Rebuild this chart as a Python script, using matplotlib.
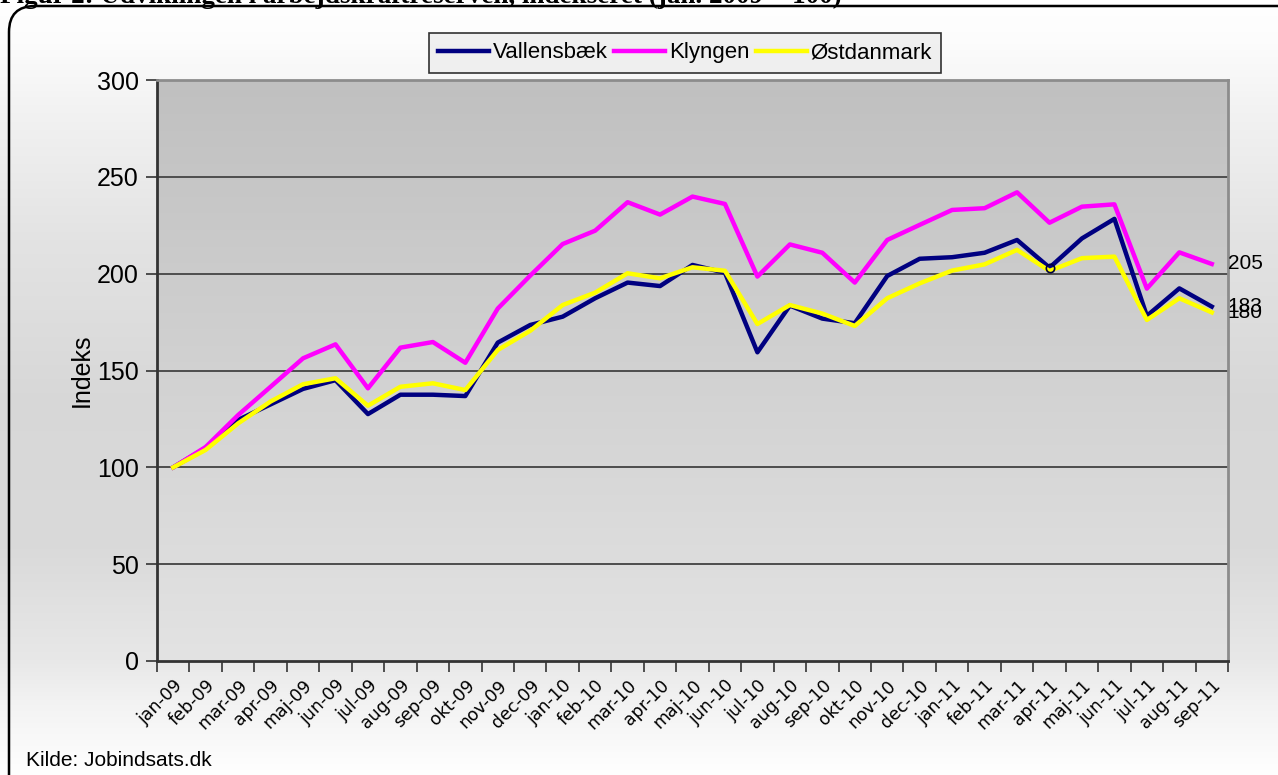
import numpy as np
import matplotlib
matplotlib.use("Agg")
import matplotlib.pyplot as plt
from matplotlib.patches import FancyBboxPatch

plt.rcParams['font.family'] = ['Liberation Sans', 'DejaVu Sans']

months = ["jan-09", "feb-09", "mar-09", "apr-09", "maj-09", "jun-09", "jul-09", "aug-09",
          "sep-09", "okt-09", "nov-09", "dec-09", "jan-10", "feb-10", "mar-10", "apr-10",
          "maj-10", "jun-10", "jul-10", "aug-10", "sep-10", "okt-10", "nov-10", "dec-10",
          "jan-11", "feb-11", "mar-11", "apr-11", "maj-11", "jun-11", "jul-11", "aug-11",
          "sep-11"]

vallensbaek = [100, 110, 124.5, 132.5, 140.5, 145, 127.5, 137.5, 137.5, 136.8, 164.4, 173.5,
               177.8, 187.3, 195.4, 193.6, 204.5, 200.5, 159.4, 183.5, 176.8, 174.4, 198.8, 207.7,
               208.5, 210.8, 217.4, 203.1, 218.2, 228.3, 178.2, 192.4, 183]
klyngen = [100, 110.5, 127, 141.6, 156.3, 163.5, 140.8, 161.8, 164.7, 154, 182, 199,
           215.3, 222.2, 236.9, 230.5, 239.8, 236, 198.5, 215.1, 210.8, 195.4, 217.4, 225.2,
           232.9, 233.8, 242, 226.3, 234.6, 235.8, 192.3, 211, 205]
ostdanmark = [100, 109, 122.7, 134, 142.9, 146, 131.8, 141.6, 143.4, 139.9, 160.6, 170.5,
              183.8, 190.2, 200.2, 197.6, 203.3, 201.5, 174, 183.8, 179.4, 173, 187.3, 195,
              201.6, 204.8, 212.3, 201.4, 208, 208.8, 176.1, 187.3, 180]

series = [("Vallensbæk", vallensbaek, "#000080"),
          ("Klyngen", klyngen, "#ff00ff"),
          ("Østdanmark", ostdanmark, "#ffff00")]

W, H = 1278, 775
fig = plt.figure(figsize=(W / 100, H / 100), dpi=100)

# background gradient for the chart area (pixel image, top row first)
py = np.arange(H)
gy = np.interp(py, [0, 40, 100, 240, 400, 550, 660, 700, 760, 775],
               [1.0, 0.99, 0.955, 0.89, 0.845, 0.855, 0.91, 0.95, 0.99, 1.0])
img = np.repeat(gy[:, None], W, axis=1)
img[:6, :] = 1.0
img = np.dstack([img, img, img])
fig.figimage(img, xo=0, yo=0, origin="upper", zorder=-20)

bg = fig.add_axes([0, 0, 1, 1], zorder=-10)
bg.set_xlim(0, W)
bg.set_ylim(H, 0)
bg.axis("off")
frame = FancyBboxPatch((9, 6), W + 40, H + 40, boxstyle="round,pad=0,rounding_size=26",
                       fill=False, edgecolor="black", linewidth=1.8, zorder=3)
bg.add_patch(frame)
bg.text(0, 3, "Figur 2: Udviklingen i arbejdskraftreserven, indekseret (jan. 2009 = 100)",
        family=["Liberation Serif"], fontweight="bold", fontsize=19.5, ha="left",
        va="baseline", zorder=4)
bg.text(26, 760, "Kilde: Jobindsats.dk", fontsize=15, ha="left", va="center", zorder=4)

ax = fig.add_axes([157 / W, 1 - 661 / H, (1228 - 157) / W, (661 - 80) / H])
x = np.arange(len(months))

pg = np.linspace(0.753, 0.89, 256)
pgrad = np.repeat(pg[:, None], 2, axis=1)
ax.imshow(np.dstack([pgrad, pgrad, pgrad]), extent=[-0.5, len(months) - 0.5, 0, 300],
          origin="upper", aspect="auto", zorder=0, interpolation="bilinear")
ax.set_ylim(0, 300)
ax.set_xlim(-0.5, len(months) - 0.5)

for yv in [50, 100, 150, 200, 250]:
    ax.axhline(yv, color="#4d4d4d", linewidth=1.4, zorder=1)

lines = []
for name, vals_s, col in series:
    ln, = ax.plot(x, vals_s, color=col, linewidth=3.2, label=name, zorder=3)
    lines.append(ln)
ax.plot([x[27]], [vallensbaek[27]], marker="o", markersize=6, markerfacecolor="none",
        markeredgecolor="#000040", markeredgewidth=1.2, zorder=4)

for name, vals_s, col in series:
    ax.annotate(f"{vals_s[-1]:.0f}", xy=(x[-1], vals_s[-1]), xytext=(16, 0),
                textcoords="offset pixels", ha="left", va="center", fontsize=15,
                annotation_clip=False, zorder=5)

ax.set_yticks([0, 50, 100, 150, 200, 250, 300])
ax.tick_params(axis="y", direction="out", length=8, width=1.2, labelsize=18, pad=5,
               color="#333333")
ax.set_xticks(np.arange(-0.5, len(months), 1.0))
ax.set_xticklabels([])
ax.set_xticks(x, minor=True)
ax.set_xticklabels(months, minor=True, rotation=45, ha="right", va="top",
                   rotation_mode="anchor", fontsize=12.5, family=["DejaVu Sans"])
ax.tick_params(axis="x", which="major", direction="out", length=8, width=1.2, color="#333333")
ax.tick_params(axis="x", which="minor", length=0, pad=11)
ax.set_ylabel("Indeks", fontsize=18, labelpad=2)

for side in ["left", "bottom"]:
    ax.spines[side].set_color("#333333")
    ax.spines[side].set_linewidth(2)
for side in ["right", "top"]:
    ax.spines[side].set_color("#8c8c8c")
    ax.spines[side].set_linewidth(2)

leg = fig.legend(handles=lines, loc="upper left", bbox_to_anchor=(429 / W, 1 - 33 / H),
                 ncol=3, fontsize=16, frameon=True, fancybox=False, handlelength=2.3,
                 handletextpad=0.15, columnspacing=0.3, borderpad=0.42, borderaxespad=0)
leg.get_frame().set_edgecolor("black")
leg.get_frame().set_linewidth(1.2)
leg.get_frame().set_facecolor("#ededed")

fig.savefig("out.png", dpi=100)
